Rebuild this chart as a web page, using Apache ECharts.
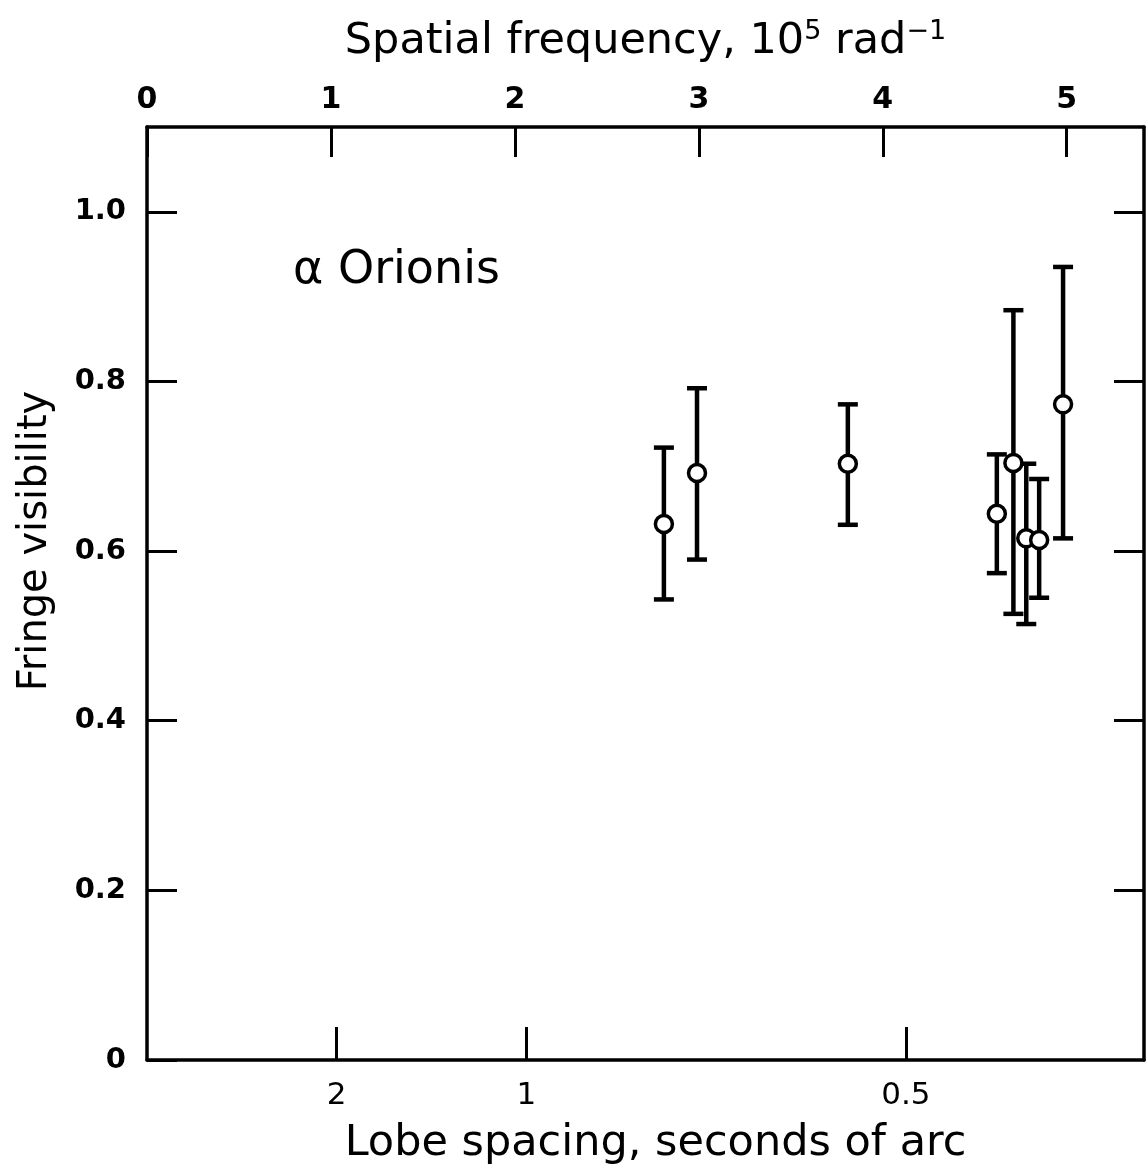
<!DOCTYPE html>
<html>
<head>
<meta charset="utf-8">
<script src="https://cdn.jsdelivr.net/npm/echarts@6/dist/echarts.min.js"></script>
<style>
  html, body { margin: 0; padding: 0; background: #fff; }
  #chart { width: 1148px; height: 1175px; }
</style>
</head>
<body>
<div id="chart"></div>
<script>
// spatial frequency in units of 1e5 rad^-1
var freqTicks = [0, 1, 2, 3, 4, 5];
var visTicks = [0, 0.2, 0.4, 0.6, 0.8, 1.0];
var visTicksRight = [0.2, 0.4, 0.6, 0.8, 1.0];
// lobe spacing, arcsec (bottom axis)
var lobeTicks = [2, 1, 0.5];

// measured points
var freq    = [2.81, 2.99, 3.81, 4.62, 4.71, 4.78, 4.85, 4.98];
var vis     = [0.632, 0.692, 0.703, 0.644, 0.704, 0.615, 0.613, 0.773];
var visHigh = [0.722, 0.792, 0.773, 0.714, 0.884, 0.703, 0.685, 0.935];
var visLow  = [0.543, 0.590, 0.631, 0.574, 0.526, 0.514, 0.545, 0.615];

// 1 arcsec = 1/206265 rad  ->  freq (1e5 rad^-1) = 2.06265 / spacing
var ARC = 206265 / 1e5;
var lobePos = lobeTicks.map(function (s) { return ARC / s; });

var XMAX = 5.42, YMAX = 1.1;
var FONT = 'DejaVu Sans';

var chart = echarts.init(document.getElementById('chart'), null, {renderer: 'canvas'});

var axisLine = {show: true, onZero: false, lineStyle: {color: '#000', width: 3.5}};
var tickStyle = {color: '#000', width: 3};

var option = {
    animation: false,
    backgroundColor: '#fff',
    textStyle: {fontFamily: FONT, color: '#000'},
    grid: {left: 147, right: 4, top: 127, bottom: 115, outerBoundsMode: 'none', containLabel: false},
    title: {
        text: '\u03b1 Orionis',
        left: 288, top: 243,
        textStyle: {fontFamily: FONT, fontSize: 46, fontWeight: 'normal', color: '#000'}
    },
    graphic: [{
        type: 'text',
        x: 36, y: 541,
        rotation: Math.PI / 2,
        style: {
            text: 'Fringe visibility',
            font: '40px "DejaVu Sans"',
            fill: '#000',
            align: 'center',
            verticalAlign: 'middle'
        }
    }],
    xAxis: [
        {
            type: 'value', position: 'top', min: 0, max: XMAX,
            axisLine: axisLine,
            axisTick: {show: true, inside: true, length: 30, customValues: freqTicks, lineStyle: tickStyle},
            axisLabel: {customValues: freqTicks, fontSize: 30, fontWeight: 'bold', color: '#000',
                fontFamily: FONT, margin: 12},
            splitLine: {show: false},
            name: 'Spatial frequency, 10{sup|5} rad{sup|\u22121}',
            nameLocation: 'middle', nameGap: 62,
            nameTextStyle: {fontSize: 43, color: '#000', fontFamily: FONT,
                rich: {sup: {fontSize: 27, verticalAlign: 'top', padding: [0, 0, 20, 0]}}}
        },
        {
            type: 'value', position: 'bottom', min: 0, max: XMAX,
            axisLine: axisLine,
            axisTick: {show: true, inside: true, length: 33, customValues: lobePos, lineStyle: tickStyle},
            axisLabel: {customValues: lobePos, fontSize: 31, color: '#000', fontFamily: FONT, margin: 20,
                formatter: function (v) { return String(+(ARC / v).toFixed(2)); }},
            splitLine: {show: false},
            name: 'Lobe spacing, seconds of arc',
            nameLocation: 'middle', nameGap: 62,
            nameTextStyle: {fontSize: 43, color: '#000', fontFamily: FONT, padding: [0, 0, 0, 20]}
        }
    ],
    yAxis: [
        {
            type: 'value', position: 'left', min: 0, max: YMAX,
            axisLine: axisLine,
            axisTick: {show: true, inside: true, length: 30, customValues: visTicks, lineStyle: tickStyle},
            axisLabel: {customValues: visTicks, fontSize: 29, fontWeight: 'bold', color: '#000',
                fontFamily: FONT, margin: 21,
                formatter: function (v) { return v === 0 ? '0' : v.toFixed(1); }},
            splitLine: {show: false}
        },
        {
            type: 'value', position: 'right', min: 0, max: YMAX,
            axisLine: axisLine,
            axisTick: {show: true, inside: true, length: 30, customValues: visTicksRight, lineStyle: tickStyle},
            axisLabel: {show: false},
            splitLine: {show: false}
        }
    ],
    series: [
        {
            type: 'custom',
            xAxisIndex: 0, yAxisIndex: 0,
            data: freq.map(function (f, i) { return [f, visLow[i], visHigh[i]]; }),
            encode: {x: 0, y: [1, 2]},
            renderItem: function (params, api) {
                var x = api.value(0);
                var lo = api.coord([x, api.value(1)]);
                var hi = api.coord([x, api.value(2)]);
                var hw = 10;
                var st = {stroke: '#000', lineWidth: 4.5};
                return {
                    type: 'group',
                    children: [
                        {type: 'line', shape: {x1: lo[0], y1: lo[1], x2: hi[0], y2: hi[1]}, style: st},
                        {type: 'line', shape: {x1: lo[0] - hw, y1: lo[1], x2: lo[0] + hw, y2: lo[1]}, style: st},
                        {type: 'line', shape: {x1: hi[0] - hw, y1: hi[1], x2: hi[0] + hw, y2: hi[1]}, style: st}
                    ]
                };
            },
            z: 2
        },
        {
            type: 'scatter',
            xAxisIndex: 0, yAxisIndex: 0,
            data: freq.map(function (f, i) { return [f, vis[i]]; }),
            symbol: 'circle',
            symbolSize: 17,
            itemStyle: {color: '#fff', borderColor: '#000', borderWidth: 3.5, opacity: 1},
            z: 3
        }
    ]
};

chart.setOption(option);
</script>
</body>
</html>
